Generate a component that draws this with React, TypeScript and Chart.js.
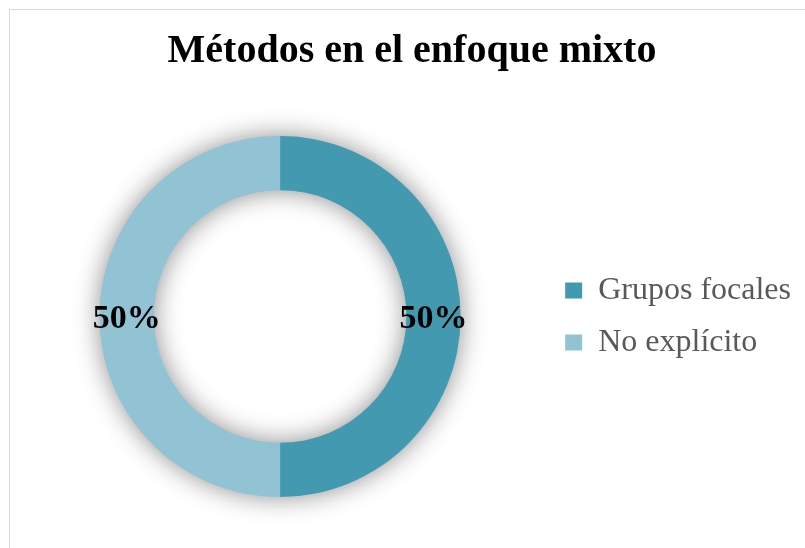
import React, { useEffect, useRef } from "react";
import { Chart, registerables } from "chart.js";

Chart.register(...registerables);

const title = "Métodos en el enfoque mixto";
const categories = ["Grupos focales", "No explícito"];
const values = [50, 50];
const colors = ["#4399B0", "#92C3D4"];

const FONT = "'Liberation Serif', 'DejaVu Serif', serif";

const titleShiftPlugin = {
  id: "titleShift",
  afterLayout(chart: any) {
    const t = chart.titleBlock;
    if (t) {
      t.left += 4;
      t.right += 4;
    }
  },
};

const shadowPlugin = {
  id: "ringShadow",
  beforeDatasetsDraw(chart: any) {
    const meta = chart.getDatasetMeta(0);
    if (!meta || !meta.data.length) return;
    const arc = meta.data[0];
    const { x, y, outerRadius, innerRadius } = arc.getProps(
      ["x", "y", "outerRadius", "innerRadius"],
      true
    );
    const ctx = chart.ctx;
    ctx.save();
    ctx.shadowColor = "rgba(0,0,0,0.45)";
    ctx.shadowBlur = 26;
    ctx.shadowOffsetX = 0;
    ctx.shadowOffsetY = 0;
    ctx.fillStyle = colors[1];
    ctx.beginPath();
    ctx.arc(x, y, outerRadius, 0, Math.PI * 2, false);
    ctx.arc(x, y, innerRadius, Math.PI * 2, 0, true);
    ctx.closePath();
    ctx.fill();
    ctx.restore();
  },
};

const labelPlugin = {
  id: "pctLabels",
  afterDatasetsDraw(chart: any) {
    const meta = chart.getDatasetMeta(0);
    const data = chart.data.datasets[0].data as number[];
    const total = data.reduce((a, b) => a + b, 0);
    const ctx = chart.ctx;
    ctx.save();
    ctx.font = `bold 34px ${FONT}`;
    ctx.fillStyle = "#000000";
    ctx.textAlign = "center";
    ctx.textBaseline = "middle";
    meta.data.forEach((el: any, i: number) => {
      const p = el.tooltipPosition(true);
      const pct = Math.round((data[i] / total) * 100) + "%";
      ctx.fillText(pct, p.x, p.y + 3);
    });
    ctx.restore();
  },
};

export default function App() {
  const ref = useRef<HTMLCanvasElement>(null);
  useEffect(() => {
    document.body.style.margin = "0";
    const chart = new Chart(ref.current!, {
      type: "doughnut",
      data: {
        labels: categories,
        datasets: [
          {
            data: values,
            backgroundColor: colors,
            borderWidth: 0,
            hoverOffset: 0,
          },
        ],
      },
      options: {
        responsive: false,
        animation: false,
        cutout: "70%",
        layout: { padding: { top: 0, bottom: 51, left: 15, right: 4 } },
        plugins: {
          title: {
            display: true,
            text: title,
            color: "#000000",
            font: { family: FONT, size: 40, weight: "bold", lineHeight: 1.2 },
            padding: { top: 28, bottom: 60 },
          },
          legend: {
            position: "right",
            align: "center",
            fullSize: false,
            labels: {
              color: "#595959",
              font: { family: FONT, size: 32 },
              boxWidth: 17,
              boxHeight: 16,
              padding: 20,
            },
          },
          tooltip: { enabled: false },
        },
      },
      plugins: [titleShiftPlugin, shadowPlugin, labelPlugin],
    });
    return () => chart.destroy();
  }, []);
  return (
    <div style={{ position: "absolute", left: 0, top: 0, width: 805, height: 548, background: "#fff" }}>
      <div
        style={{
          position: "absolute",
          left: 9,
          top: 9,
          width: 900,
          height: 700,
          borderTop: "1px solid #D9D9D9",
          borderLeft: "1px solid #D9D9D9",
          boxSizing: "border-box",
        }}
      />
      <div style={{ position: "absolute", left: 0, top: 0, width: 805, height: 548, overflow: "hidden" }}>
        <canvas ref={ref} width={805} height={548} style={{ position: "absolute", left: 0, top: 0 }} />
      </div>
    </div>
  );
}
